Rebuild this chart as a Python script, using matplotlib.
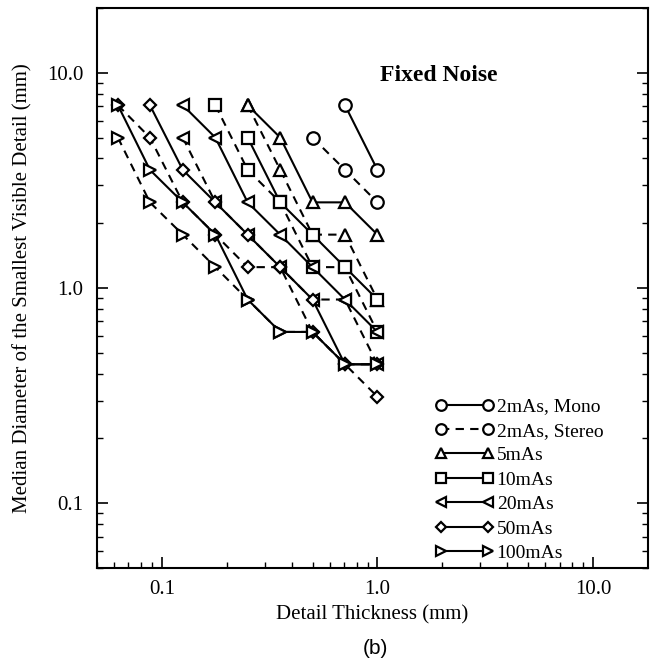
import matplotlib
matplotlib.use("Agg")
import matplotlib.pyplot as plt
from matplotlib.ticker import FixedLocator, FixedFormatter, LogLocator, NullFormatter

plt.rcParams['font.family'] = ['Liberation Serif', 'DejaVu Serif']

# detail thicknesses (mm) and diameters (mm), steps of sqrt(2)
thick = [0.0625, 0.088, 0.125, 0.177, 0.25, 0.354, 0.5, 0.707, 1.0]

mono_2_x = [0.707, 1.0]
mono_2_y = [7.07, 3.54]
stereo_2_x = [0.5, 0.707, 1.0]
stereo_2_y = [5.0, 3.54, 2.5]

mono_5_x = [0.25, 0.354, 0.5, 0.707, 1.0]
mono_5_y = [7.07, 5.0, 2.5, 2.5, 1.77]
stereo_5_x = [0.25, 0.354, 0.5, 0.707, 1.0]
stereo_5_y = [7.07, 3.54, 1.77, 1.77, 0.884]

mono_10_x = [0.25, 0.354, 0.5, 0.707, 1.0]
mono_10_y = [5.0, 2.5, 1.77, 1.25, 0.884]
stereo_10_x = [0.177, 0.25, 0.354, 0.5, 0.707, 1.0]
stereo_10_y = [7.07, 3.54, 2.5, 1.25, 1.25, 0.625]

mono_20_x = [0.125, 0.177, 0.25, 0.354, 0.5, 0.707, 1.0]
mono_20_y = [7.07, 5.0, 2.5, 1.77, 1.25, 0.884, 0.625]
stereo_20_x = [0.125, 0.177, 0.25, 0.354, 0.5, 0.707, 1.0]
stereo_20_y = [5.0, 2.5, 1.77, 1.25, 0.884, 0.884, 0.442]

mono_50_x = [0.088, 0.125, 0.177, 0.25, 0.354, 0.5, 0.707, 1.0]
mono_50_y = [7.07, 3.54, 2.5, 1.77, 1.25, 0.884, 0.442, 0.442]
stereo_50_x = [0.0625, 0.088, 0.125, 0.177, 0.25, 0.354, 0.5, 0.707, 1.0]
stereo_50_y = [7.07, 5.0, 2.5, 1.77, 1.25, 1.25, 0.625, 0.442, 0.3125]

mono_100_x = [0.0625, 0.088, 0.125, 0.177, 0.25, 0.354, 0.5, 0.707, 1.0]
mono_100_y = [7.07, 3.54, 2.5, 1.77, 0.884, 0.625, 0.625, 0.442, 0.442]
stereo_100_x = [0.0625, 0.088, 0.125, 0.177, 0.25, 0.354, 0.5, 0.707, 1.0]
stereo_100_y = [5.0, 2.5, 1.77, 1.25, 0.884, 0.625, 0.625, 0.442, 0.442]

series = [
    ("2mAs, Mono", mono_2_x, mono_2_y, 'o', '-', True),
    ("2mAs, Stereo", stereo_2_x, stereo_2_y, 'o', '--', True),
    ("5mAs", mono_5_x, mono_5_y, '^', '-', True),
    (None, stereo_5_x, stereo_5_y, '^', '--', False),
    ("10mAs", mono_10_x, mono_10_y, 's', '-', True),
    (None, stereo_10_x, stereo_10_y, 's', '--', False),
    ("20mAs", mono_20_x, mono_20_y, '<', '-', True),
    (None, stereo_20_x, stereo_20_y, '<', '--', False),
    ("50mAs", mono_50_x, mono_50_y, 'D', '-', True),
    (None, stereo_50_x, stereo_50_y, 'D', '--', False),
    ("100mAs", mono_100_x, mono_100_y, '>', '-', True),
    (None, stereo_100_x, stereo_100_y, '>', '--', False),
]

fig = plt.figure(figsize=(6.57, 6.66), dpi=100)
ax = fig.add_axes([97 / 657, 1 - 568 / 666, (648 - 97) / 657, (568 - 8) / 666])

handles = []
labels = []
for name, xs, ys, mk, ls, in_leg in series:
    ms = 6.5 if mk == 'D' else 9
    ln, = ax.plot(xs, ys, color='black', linestyle=ls, linewidth=1.5,
                  dashes=(4, 3) if ls == '--' else (None, None),
                  marker=mk, markersize=ms, markerfacecolor='white',
                  markeredgecolor='black', markeredgewidth=1.6)
    if in_leg:
        handles.append(ln)
        labels.append(name)

ax.set_xscale('log')
ax.set_yscale('log')
ax.set_xlim(0.05, 18)
ax.set_ylim(0.05, 20)

for axis in (ax.xaxis, ax.yaxis):
    axis.set_major_locator(FixedLocator([0.1, 1.0, 10.0]))
    axis.set_major_formatter(FixedFormatter(['0.1', '1.0', '10.0']))
    axis.set_minor_locator(LogLocator(base=10, subs=range(2, 10)))
    axis.set_minor_formatter(NullFormatter())
ax.tick_params(which='both', direction='in', top=False, right=True, labelsize=15)
ax.tick_params(which='major', length=8, width=1.2)
ax.tick_params(which='minor', length=4, width=1.0)
ax.tick_params(axis='y', which='major', pad=10)
ax.tick_params(axis='x', which='major', pad=9)
for sp in ax.spines.values():
    sp.set_linewidth(1.5)

ax.set_xlabel("Detail Thickness (mm)", fontsize=15, labelpad=4)
ax.set_ylabel("Median Diameter of the Smallest Visible Detail (mm)", fontsize=15, labelpad=10)

ax.text(0.62, 0.88, "Fixed Noise", transform=ax.transAxes, fontsize=17,
        fontweight='bold', ha='center', va='center')

leg = ax.legend(handles, labels, loc='lower right', bbox_to_anchor=(0.94, -0.01),
                frameon=False, fontsize=14, numpoints=2, handlelength=3.0,
                handletextpad=0.15, labelspacing=0.35, borderaxespad=0.2,
                markerscale=0.85)

fig.text(375 / 657, 1 - 648 / 666, "(b)", fontsize=15, family='Liberation Sans',
         ha='center', va='center')

fig.savefig("out.png", dpi=100)
